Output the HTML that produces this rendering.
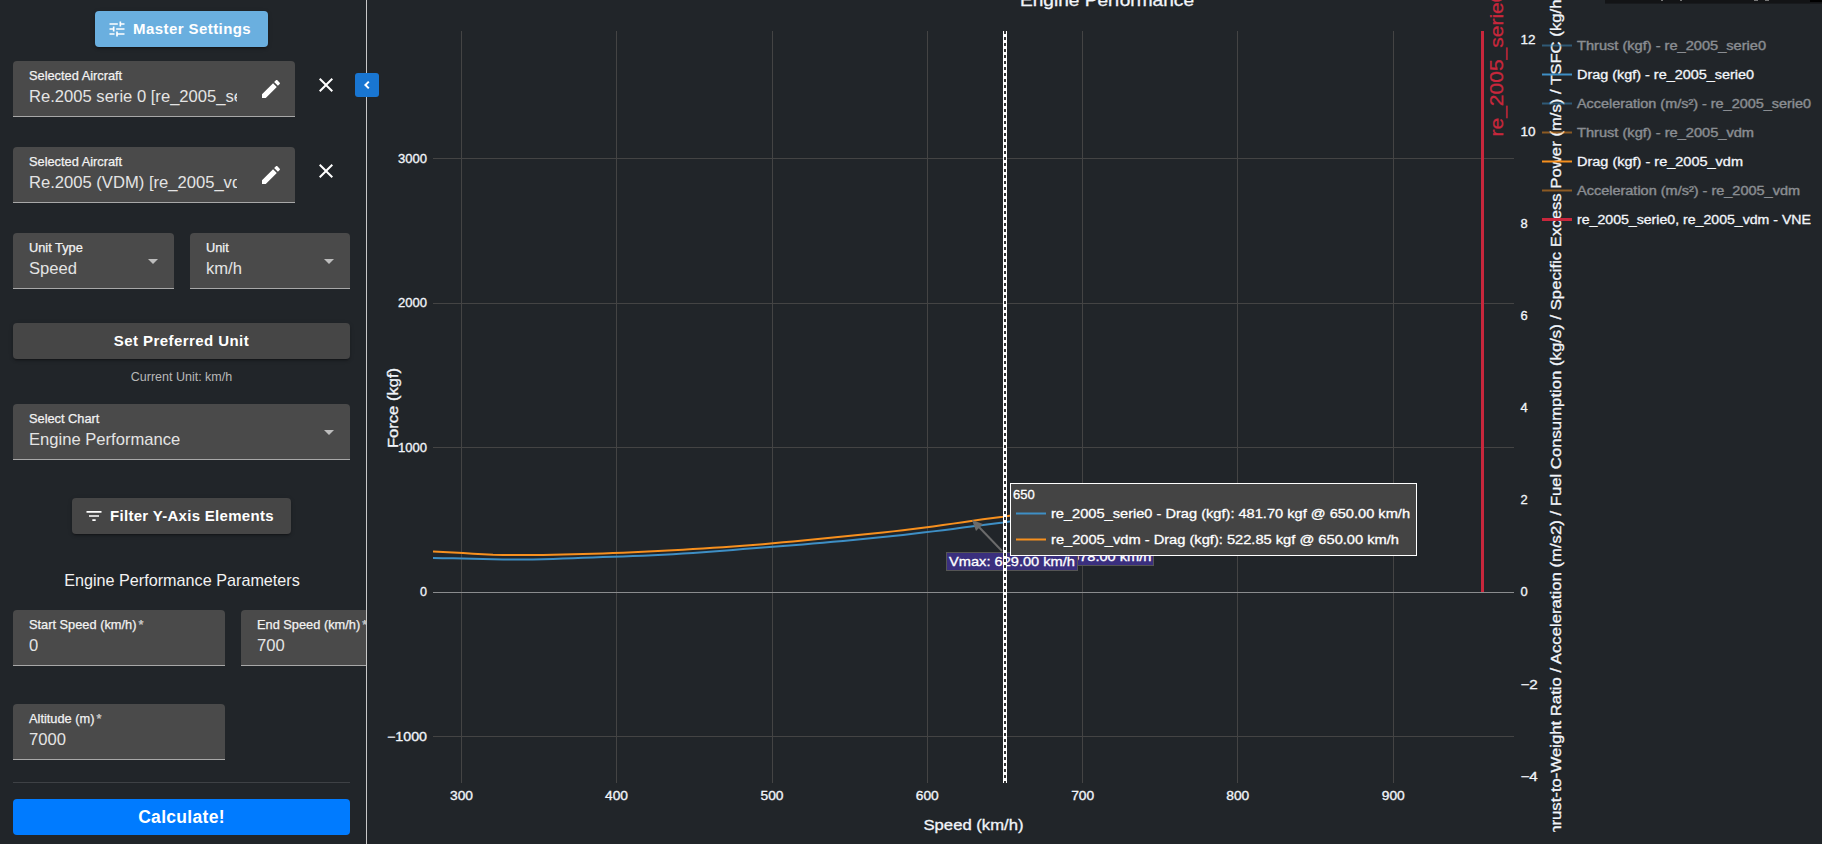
<!DOCTYPE html>
<html><head><meta charset="utf-8">
<style>
html,body{margin:0;padding:0;width:1822px;height:844px;overflow:hidden;background:#212529;font-family:"Liberation Sans",sans-serif;}
#chart{position:absolute;left:0;top:0;}
#side{position:absolute;left:0;top:0;width:366px;height:844px;overflow:hidden;}
.vline{position:absolute;left:366px;top:0;width:1px;height:844px;background:#c8c8c8;}
.abs{position:absolute;}
.field{position:absolute;background:#4a4a4a;border-radius:4px 4px 0 0;border-bottom:1px solid #a8a8a8;box-sizing:border-box;}
.lbl{position:absolute;left:16px;top:7px;font-size:12.8px;-webkit-text-stroke:0.25px #f2f2f2;color:#f2f2f2;white-space:nowrap;}
.val{position:absolute;left:16px;top:26px;font-size:16.6px;color:#e4e4e4;white-space:nowrap;overflow:hidden;}
.btn{position:absolute;border-radius:4px;color:#fff;font-weight:bold;font-size:15px;letter-spacing:0.43px;text-align:center;box-shadow:0 3px 1px -2px rgba(0,0,0,.2),0 2px 2px 0 rgba(0,0,0,.14),0 1px 5px 0 rgba(0,0,0,.12);}
.arrow{position:absolute;width:0;height:0;border-left:5px solid transparent;border-right:5px solid transparent;border-top:5px solid #bdbdbd;}
</style></head><body>
<svg id="chart" width="1822" height="844" viewBox="0 0 1822 844" font-family="Liberation Sans, sans-serif">
<style>#chart text{stroke-width:0.3px}</style>
  <defs><clipPath id="clipR"><rect x="1530" y="0" width="60" height="832"/></clipPath></defs>
  <!-- vertical grid -->
  <g stroke="#444444" stroke-width="1">
    <line x1="461.5" y1="31" x2="461.5" y2="783"/>
    <line x1="616.5" y1="31" x2="616.5" y2="783"/>
    <line x1="772.5" y1="31" x2="772.5" y2="783"/>
    <line x1="927.5" y1="31" x2="927.5" y2="783"/>
    <line x1="1082.5" y1="31" x2="1082.5" y2="783"/>
    <line x1="1237.5" y1="31" x2="1237.5" y2="783"/>
    <line x1="1393.5" y1="31" x2="1393.5" y2="783"/>
    <line x1="433" y1="158.5" x2="1514" y2="158.5"/>
    <line x1="433" y1="303.5" x2="1514" y2="303.5"/>
    <line x1="433" y1="447.5" x2="1514" y2="447.5"/>
    <line x1="433" y1="736.5" x2="1514" y2="736.5"/>
  </g>
  <line x1="433" y1="592.5" x2="1514" y2="592.5" stroke="#8a8c8e" stroke-width="1"/>
  <!-- curves -->
  <path d="M433,558.00 L443,558.16 L453,558.34 L463,558.54 L473,558.80 L483,559.09 L493,559.32 L503,559.42 L513,559.46 L523,559.49 L533,559.49 L543,559.28 L553,558.94 L563,558.60 L573,558.24 L583,557.84 L593,557.45 L603,557.10 L613,556.80 L623,556.45 L633,556.08 L643,555.68 L653,555.24 L663,554.75 L673,554.19 L683,553.57 L693,552.90 L703,552.19 L713,551.44 L723,550.67 L733,549.89 L743,549.11 L753,548.33 L763,547.57 L773,546.81 L783,546.04 L793,545.25 L803,544.44 L813,543.60 L823,542.74 L833,541.85 L843,540.95 L853,540.02 L863,539.07 L873,538.09 L883,537.09 L893,536.05 L903,534.97 L913,533.80 L923,532.59 L933,531.37 L943,530.14 L953,528.89 L963,527.61 L973,526.28 L983,524.96 L993,523.74 L1003,522.50 L1013,521.01 L1023,519.53 L1033,518.06 L1043,516.60 L1053,515.14 L1063,513.70 L1073,512.27" fill="none" stroke="#3e8fc5" stroke-width="2"/>
  <path d="M433,551.60 L443,552.10 L453,552.60 L463,553.10 L473,553.70 L483,554.31 L493,554.76 L503,554.92 L513,554.97 L523,554.99 L533,554.99 L543,554.90 L553,554.73 L563,554.54 L573,554.31 L583,554.02 L593,553.71 L603,553.41 L613,553.10 L623,552.74 L633,552.32 L643,551.86 L653,551.36 L663,550.84 L673,550.29 L683,549.72 L693,549.12 L703,548.49 L713,547.83 L723,547.15 L733,546.44 L743,545.71 L753,544.95 L763,544.16 L773,543.30 L783,542.37 L793,541.39 L803,540.40 L813,539.39 L823,538.41 L833,537.43 L843,536.46 L853,535.49 L863,534.50 L873,533.49 L883,532.45 L893,531.38 L903,530.26 L913,529.07 L923,527.82 L933,526.49 L943,525.08 L953,523.62 L963,522.16 L973,520.64 L983,519.17 L993,517.92 L1003,516.70 L1013,515.18 L1023,513.63 L1033,512.06 L1043,510.47 L1053,508.85 L1063,507.21 L1073,505.54" fill="none" stroke="#f7901e" stroke-width="2"/>
  <!-- VNE -->
  <line x1="1482.5" y1="31" x2="1482.5" y2="592" stroke="#c8273c" stroke-width="3"/>
  <text transform="translate(1503,136.5) rotate(-90)" font-size="18" fill="#c8273c" textLength="146" lengthAdjust="spacingAndGlyphs" stroke="#c8273c">re_2005_serie0</text>
  <!-- title -->
  <text x="1107" y="6" font-size="17" fill="#f2f5fa" text-anchor="middle" textLength="174" lengthAdjust="spacingAndGlyphs" stroke="#f2f5fa">Engine Performance</text>
  <!-- left ticks -->
  <g font-size="12" fill="#f2f5fa" text-anchor="end" stroke="#f2f5fa">
    <text x="427" y="163" textLength="29" lengthAdjust="spacingAndGlyphs">3000</text>
    <text x="427" y="307" textLength="29" lengthAdjust="spacingAndGlyphs">2000</text>
    <text x="427" y="452" textLength="29" lengthAdjust="spacingAndGlyphs">1000</text>
    <text x="427" y="596" textLength="7" lengthAdjust="spacingAndGlyphs">0</text>
    <text x="427" y="741" textLength="40" lengthAdjust="spacingAndGlyphs">&#8722;1000</text>
  </g>
  <!-- x ticks -->
  <g font-size="12" fill="#f2f5fa" text-anchor="middle" stroke="#f2f5fa">
    <text x="461.5" y="800" textLength="23" lengthAdjust="spacingAndGlyphs">300</text>
    <text x="616.5" y="800" textLength="23" lengthAdjust="spacingAndGlyphs">400</text>
    <text x="772" y="800" textLength="23" lengthAdjust="spacingAndGlyphs">500</text>
    <text x="927.3" y="800" textLength="23" lengthAdjust="spacingAndGlyphs">600</text>
    <text x="1082.7" y="800" textLength="23" lengthAdjust="spacingAndGlyphs">700</text>
    <text x="1237.8" y="800" textLength="23" lengthAdjust="spacingAndGlyphs">800</text>
    <text x="1393.3" y="800" textLength="23" lengthAdjust="spacingAndGlyphs">900</text>
  </g>
  <text x="973.5" y="830" font-size="14" fill="#f2f5fa" text-anchor="middle" textLength="100" lengthAdjust="spacingAndGlyphs" stroke="#f2f5fa">Speed (km/h)</text>
  <text transform="translate(397.5,448) rotate(-90)" font-size="14" fill="#f2f5fa" textLength="80" lengthAdjust="spacingAndGlyphs" stroke="#f2f5fa">Force (kgf)</text>
  <!-- right ticks -->
  <g font-size="12.5" fill="#f2f5fa" stroke="#f2f5fa">
    <text x="1520.5" y="44" textLength="15" lengthAdjust="spacingAndGlyphs">12</text>
    <text x="1520.5" y="136" textLength="15" lengthAdjust="spacingAndGlyphs">10</text>
    <text x="1520.5" y="228" textLength="7.2" lengthAdjust="spacingAndGlyphs">8</text>
    <text x="1520.5" y="320" textLength="7.2" lengthAdjust="spacingAndGlyphs">6</text>
    <text x="1520.5" y="412" textLength="7.2" lengthAdjust="spacingAndGlyphs">4</text>
    <text x="1520.5" y="504" textLength="7.2" lengthAdjust="spacingAndGlyphs">2</text>
    <text x="1520.5" y="596" textLength="7.2" lengthAdjust="spacingAndGlyphs">0</text>
    <text x="1520.5" y="689" textLength="17.3" lengthAdjust="spacingAndGlyphs">&#8722;2</text>
    <text x="1520.5" y="781" textLength="17.3" lengthAdjust="spacingAndGlyphs">&#8722;4</text>
  </g>
  <g clip-path="url(#clipR)"><text transform="translate(1561,845) rotate(-90)" font-size="14" fill="#f2f5fa" textLength="878" lengthAdjust="spacingAndGlyphs" stroke="#f2f5fa">Thrust-to-Weight Ratio / Acceleration (m/s2) / Fuel Consumption (kg/s) / Specific Excess Power (m/s) / TSFC (kg/h/kgf)</text></g>
  <!-- annotations -->
  <rect x="1022.5" y="547.5" width="131" height="18" fill="#3a2f7e" stroke="#555" stroke-width="1"/>
  <text x="1025.5" y="561" font-size="13" fill="#fff" textLength="126" lengthAdjust="spacingAndGlyphs" stroke="#fff">Vmax: 678.00 km/h</text>
  <line x1="1002" y1="551" x2="978" y2="526" stroke="#6b6b6b" stroke-width="2"/>
  <path d="M972,520 L983,524 L976,531 Z" fill="#6b6b6b"/>
  <rect x="946.5" y="552.5" width="131" height="18" fill="#3a2f7e" stroke="#555" stroke-width="1"/>
  <text x="949" y="566" font-size="13" fill="#fff" textLength="126" lengthAdjust="spacingAndGlyphs" stroke="#fff">Vmax: 629.00 km/h</text>
  <!-- spike -->
  <line x1="1005" y1="31" x2="1005" y2="783" stroke="#fff" stroke-width="4"/>
  <line x1="1005" y1="31" x2="1005" y2="783" stroke="#333" stroke-width="2" stroke-dasharray="3,3"/>
  <!-- tooltip -->
  <rect x="1010.5" y="483.5" width="406" height="72" fill="#444" stroke="#fff" stroke-width="1"/>
  <text x="1013" y="499" font-size="13" fill="#fff" stroke="#fff">650</text>
  <line x1="1016" y1="513.5" x2="1046" y2="513.5" stroke="#3e8fc5" stroke-width="2"/>
  <line x1="1016" y1="539.5" x2="1046" y2="539.5" stroke="#f7901e" stroke-width="2"/>
  <text x="1051" y="518" font-size="13" fill="#fff" textLength="359" lengthAdjust="spacingAndGlyphs" stroke="#fff">re_2005_serie0 - Drag (kgf): 481.70 kgf @ 650.00 km/h</text>
  <text x="1051" y="544" font-size="13" fill="#fff" textLength="348" lengthAdjust="spacingAndGlyphs" stroke="#fff">re_2005_vdm - Drag (kgf): 522.85 kgf @ 650.00 km/h</text>
  <!-- legend -->
  <g font-size="12" fill="#f2f5fa" stroke="#f2f5fa">
    <g opacity="0.5"><line x1="1542" y1="45.5" x2="1572" y2="45.5" stroke="#3e8fc5" stroke-width="2"/><text x="1577" y="50" textLength="189" lengthAdjust="spacingAndGlyphs">Thrust (kgf) - re_2005_serie0</text></g>
    <g><line x1="1542" y1="74.5" x2="1572" y2="74.5" stroke="#3e8fc5" stroke-width="2"/><text x="1577" y="79" textLength="177" lengthAdjust="spacingAndGlyphs">Drag (kgf) - re_2005_serie0</text></g>
    <g opacity="0.5"><line x1="1542" y1="103.5" x2="1572" y2="103.5" stroke="#3e8fc5" stroke-width="2"/><text x="1577" y="108" textLength="234" lengthAdjust="spacingAndGlyphs">Acceleration (m/s²) - re_2005_serie0</text></g>
    <g opacity="0.5"><line x1="1542" y1="132.5" x2="1572" y2="132.5" stroke="#f7901e" stroke-width="2"/><text x="1577" y="137" textLength="177" lengthAdjust="spacingAndGlyphs">Thrust (kgf) - re_2005_vdm</text></g>
    <g><line x1="1542" y1="161.5" x2="1572" y2="161.5" stroke="#f7901e" stroke-width="2"/><text x="1577" y="166" textLength="166" lengthAdjust="spacingAndGlyphs">Drag (kgf) - re_2005_vdm</text></g>
    <g opacity="0.5"><line x1="1542" y1="190.5" x2="1572" y2="190.5" stroke="#f7901e" stroke-width="2"/><text x="1577" y="195" textLength="223" lengthAdjust="spacingAndGlyphs">Acceleration (m/s²) - re_2005_vdm</text></g>
    <g><line x1="1542" y1="219.5" x2="1572" y2="219.5" stroke="#c8273c" stroke-width="3"/><text x="1577" y="224" textLength="234" lengthAdjust="spacingAndGlyphs">re_2005_serie0, re_2005_vdm - VNE</text></g>
  </g>
  <!-- modebar -->
  <rect x="1605" y="0" width="217" height="3.6" fill="#131416"/><rect x="1661" y="0" width="2" height="1" fill="#777"/><rect x="1680" y="0" width="2" height="1" fill="#777"/><rect x="1754" y="0" width="4" height="1" fill="#777"/><rect x="1765" y="0" width="4" height="1" fill="#777"/><rect x="1810" y="0" width="12" height="2" fill="#000"/>
</svg>
<div id="side">
  <div class="btn" style="left:95px;top:11px;width:173px;height:36px;background:#6aafdf;line-height:35px;">
    <svg class="abs" style="left:12px;top:8px" width="20" height="20" viewBox="0 0 24 24"><path fill="#fff" d="M3 17v2h6v-2H3zM3 5v2h10V5H3zm10 16v-2h8v-2h-8v-2h-2v6h2zM7 9v2H3v2h4v2h2V9H7zm14 4v-2H11v2h10zm-6-4h2V7h4V5h-4V3h-2v6z"/></svg>
    <span style="position:absolute;left:38px;top:0;">Master Settings</span>
  </div>
  <div class="field" style="left:13px;top:61px;width:282px;height:56px;">
    <div class="lbl">Selected Aircraft</div>
    <div class="val" style="width:208px">Re.2005 serie 0 [re_2005_serie0]</div>
    <svg class="abs" style="left:246px;top:16px" width="24" height="24" viewBox="0 0 24 24"><path fill="#fff" d="M3 17.25V21h3.75L17.81 9.94l-3.75-3.75L3 17.25zM20.71 7.04c.39-.39.39-1.02 0-1.41l-2.34-2.34c-.39-.39-1.02-.39-1.41 0l-1.83 1.83 3.75 3.75 1.83-1.83z"/></svg>
  </div>
  <svg class="abs" style="left:314px;top:73px" width="24" height="24" viewBox="0 0 24 24"><path fill="#fff" d="M19 6.41 17.59 5 12 10.59 6.41 5 5 6.41 10.59 12 5 17.59 6.41 19 12 13.41 17.59 19 19 17.59 13.41 12z"/></svg>
  <div class="field" style="left:13px;top:147px;width:282px;height:56px;">
    <div class="lbl">Selected Aircraft</div>
    <div class="val" style="width:208px">Re.2005 (VDM) [re_2005_vdm]</div>
    <svg class="abs" style="left:246px;top:16px" width="24" height="24" viewBox="0 0 24 24"><path fill="#fff" d="M3 17.25V21h3.75L17.81 9.94l-3.75-3.75L3 17.25zM20.71 7.04c.39-.39.39-1.02 0-1.41l-2.34-2.34c-.39-.39-1.02-.39-1.41 0l-1.83 1.83 3.75 3.75 1.83-1.83z"/></svg>
  </div>
  <svg class="abs" style="left:314px;top:159px" width="24" height="24" viewBox="0 0 24 24"><path fill="#fff" d="M19 6.41 17.59 5 12 10.59 6.41 5 5 6.41 10.59 12 5 17.59 6.41 19 12 13.41 17.59 19 19 17.59 13.41 12z"/></svg>

  <div class="field" style="left:13px;top:233px;width:161px;height:56px;">
    <div class="lbl">Unit Type</div>
    <div class="val">Speed</div>
    <div class="arrow" style="left:135px;top:26px"></div>
  </div>
  <div class="field" style="left:190px;top:233px;width:160px;height:56px;">
    <div class="lbl">Unit</div>
    <div class="val">km/h</div>
    <div class="arrow" style="left:134px;top:26px"></div>
  </div>
  <div class="btn" style="left:13px;top:323px;width:337px;height:36px;background:#464646;line-height:35px;">Set Preferred Unit</div>
  <div class="abs" style="left:0;top:370px;width:363px;text-align:center;font-size:12.5px;color:#b8b8b8;">Current Unit: km/h</div>
  <div class="field" style="left:13px;top:404px;width:337px;height:56px;">
    <div class="lbl">Select Chart</div>
    <div class="val">Engine Performance</div>
    <div class="arrow" style="left:311px;top:26px"></div>
  </div>
  <div class="btn" style="left:72px;top:498px;width:219px;height:36px;background:#464646;line-height:35px;letter-spacing:0.3px;">
    <svg class="abs" style="left:11.5px;top:8px" width="20" height="20" viewBox="0 0 24 24"><path fill="#fff" d="M10 18h4v-2h-4v2zM3 6v2h18V6H3zm3 7h12v-2H6v2z"/></svg>
    <span style="position:absolute;left:38px;top:0;">Filter Y-Axis Elements</span>
  </div>
  <div class="abs" style="left:0;top:571px;width:364px;text-align:center;font-size:16.2px;color:#f2f2f2;">Engine Performance Parameters</div>
  <div class="field" style="left:13px;top:610px;width:212px;height:56px;">
    <div class="lbl">Start Speed (km/h)<span style="color:#b4b4b4;margin-left:2px">*</span></div>
    <div class="val">0</div>
  </div>
  <div class="field" style="left:241px;top:610px;width:212px;height:56px;">
    <div class="lbl">End Speed (km/h)<span style="color:#b4b4b4;margin-left:2px">*</span></div>
    <div class="val">700</div>
  </div>
  <div class="field" style="left:13px;top:704px;width:212px;height:56px;">
    <div class="lbl">Altitude (m)<span style="color:#b4b4b4;margin-left:2px">*</span></div>
    <div class="val">7000</div>
  </div>
  <div class="abs" style="left:13px;top:782px;width:337px;height:1px;background:#3e4145;"></div>
  <div class="btn" style="left:13px;top:799px;width:337px;height:36px;background:#007bff;line-height:36px;font-size:17.5px;letter-spacing:0.3px;box-shadow:none;">Calculate!</div>
</div>
<div class="vline"></div>
<div class="abs" style="left:355px;top:73px;width:24px;height:24px;background:#1976d2;border-radius:3px;">
  <svg class="abs" style="left:4px;top:4px" width="16" height="16" viewBox="0 0 16 16"><path d="M9.8 4.6 L6.4 8 L9.8 11.4" fill="none" stroke="#fff" stroke-width="2"/></svg>
</div>
</body></html>
